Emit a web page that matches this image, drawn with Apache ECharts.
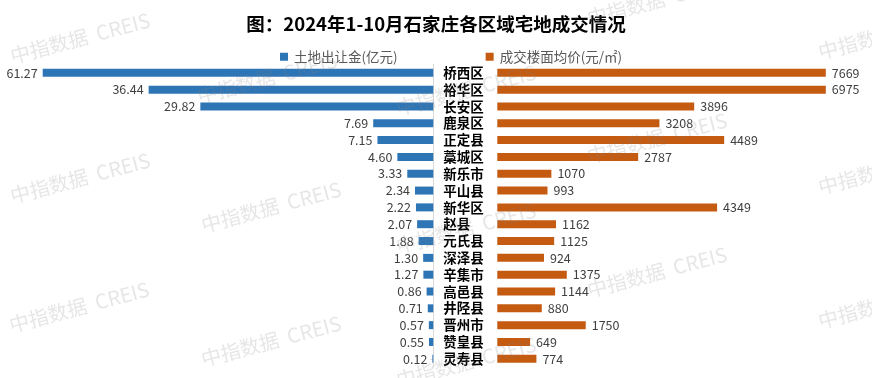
<!DOCTYPE html>
<html>
<head>
<meta charset="utf-8">
<script src="https://cdn.jsdelivr.net/npm/echarts@6/dist/echarts.min.js"></script>
<style>
html,body{margin:0;padding:0;background:#fff;}
#chart{width:872px;height:378px;}
</style>
</head>
<body>
<div id="chart"></div>
<script>
var categories = ['桥西区','裕华区','长安区','鹿泉区','正定县','藁城区','新乐市','平山县','新华区','赵县','元氏县','深泽县','辛集市','高邑县','井陉县','晋州市','赞皇县','灵寿县'];
var landFee = [61.27,36.44,29.82,7.69,7.15,4.60,3.33,2.34,2.22,2.07,1.88,1.30,1.27,0.86,0.71,0.57,0.55,0.12];
var avgPrice = [7669,6975,3896,3208,4489,2787,1070,993,4349,1162,1125,924,1375,1144,880,1750,649,774];
var seriesNames = ['土地出让金(亿元)','成交楼面均价(元/㎡)'];
var titleText = '图：2024年1-10月石家庄各区域宅地成交情况';
var watermarkText = '中指数据  CREIS';
var watermarkSpots = [[80,38],[267,78],[80,178],[271,207],[79,307],[271,341],[466,90],[657,138],[466,228],[657,272],[466,362],[657,0],[888,34],[888,169],[888,303]];

var FONT = '"Noto Sans CJK SC","Noto Sans",sans-serif';
var chart = echarts.init(document.getElementById('chart'), null, {renderer:'canvas'});

var gridTop = 64.4, gridH = 302.8;
var leftMax = 50, rightMax = 6500;

var graphics = watermarkSpots.map(function(p){
  return {
    type:'text', x:p[0], y:p[1], rotation:0.26, z:100, silent:true,
    style:{text:watermarkText, fill:'rgba(128,128,128,0.2)', font:'20px ' + FONT, align:'center', verticalAlign:'middle'}
  };
});

var option = {
  backgroundColor:'#fff',
  animation:false,
  title:{
    text:titleText, left:'center', top:10,
    textStyle:{fontFamily:FONT, fontSize:18.5, fontWeight:'bold', color:'#000'}
  },
  legend:{
    data:seriesNames, left:275, top:45, itemWidth:8, itemHeight:8, itemGap:88,
    icon:'rect',
    textStyle:{fontFamily:FONT, fontSize:13.5, color:'#595959', padding:[0,0,0,1]}
  },
  grid:[
    {left:42.7, top:gridTop, width:390.6, height:gridH},
    {left:497.3, top:gridTop, width:328.5, height:gridH}
  ],
  xAxis:[
    {type:'value', gridIndex:0, min:0, max:leftMax, inverse:true, show:false},
    {type:'value', gridIndex:1, min:0, max:rightMax, show:false}
  ],
  yAxis:[
    {type:'category', gridIndex:0, data:categories, inverse:true, position:'right',
     axisLine:{show:true, lineStyle:{color:'#d9d9d9'}},
     axisTick:{show:true, inside:true, length:3, alignWithLabel:true, interval:0, lineStyle:{color:'#d9d9d9'}},
     axisLabel:{show:false}, splitLine:{show:false}},
    {type:'category', gridIndex:1, data:categories, inverse:true, position:'left',
     axisLine:{show:false}, axisTick:{show:false}, splitLine:{show:false},
     axisLabel:{show:true, interval:0, align:'left', margin:54, fontFamily:FONT, fontSize:13.5, fontWeight:'bold', color:'#000'}}
  ],
  series:[
    {name:seriesNames[0], type:'bar', xAxisIndex:0, yAxisIndex:0, data:landFee, barWidth:8,
     itemStyle:{color:'#2E75B6'}, clip:true,
     label:{show:true, position:'left', distance:5, fontFamily:FONT, fontSize:12.5, color:'#404040',
            formatter:function(p){return landFee[p.dataIndex].toFixed(2);}}},
    {name:seriesNames[1], type:'bar', xAxisIndex:1, yAxisIndex:1, data:avgPrice, barWidth:8,
     itemStyle:{color:'#C55A11'}, clip:true,
     label:{show:true, position:'right', distance:6, fontFamily:FONT, fontSize:12.5, color:'#404040',
            formatter:function(p){return String(avgPrice[p.dataIndex]);}}}
  ],
  graphic:graphics
};
chart.setOption(option);
</script>
</body>
</html>
